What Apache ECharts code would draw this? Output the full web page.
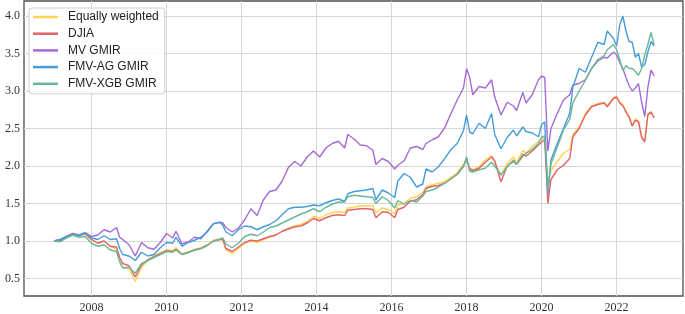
<!DOCTYPE html>
<html>
<head>
<meta charset="utf-8">
<script src="https://cdn.jsdelivr.net/npm/echarts@6/dist/echarts.min.js"></script>
<style>
html,body{margin:0;padding:0;background:#fff;}
#chart{width:685px;height:314px;}
</style>
</head>
<body>
<div id="chart"></div>
<script>
const dates = [
"2007-01","2007-03","2007-05","2007-07","2007-09","2007-11",
"2008-01","2008-03","2008-05","2008-07","2008-09","2008-10","2008-11",
"2009-01","2009-03","2009-05","2009-07","2009-09","2009-11",
"2010-01","2010-03","2010-04","2010-06","2010-08","2010-10","2010-12",
"2011-02","2011-04","2011-06","2011-07","2011-08","2011-10","2011-12",
"2012-02","2012-04","2012-06","2012-08","2012-10","2012-12",
"2013-02","2013-04","2013-06","2013-08","2013-10","2013-12",
"2014-02","2014-04","2014-06","2014-08","2014-10","2014-11",
"2015-01","2015-03","2015-05","2015-07","2015-08","2015-10","2015-12",
"2016-02","2016-03","2016-05","2016-07","2016-09","2016-11","2016-12",
"2017-02","2017-04","2017-06","2017-08","2017-10","2017-12",
"2018-01","2018-02","2018-03","2018-05","2018-07","2018-09","2018-10","2018-12",
"2019-02","2019-04","2019-05","2019-07","2019-08","2019-10","2019-12",
"2020-01","2020-02","2020-03","2020-04","2020-06","2020-08","2020-10","2020-11",
"2021-01","2021-03","2021-05","2021-07","2021-09","2021-10","2021-12",
"2022-01","2022-02","2022-03","2022-04","2022-05","2022-06","2022-07","2022-08","2022-09","2022-10","2022-11","2022-12","2023-01"
];

const equallyWeighted = [
1.00,1.00,1.05,1.10,1.07,1.09,
1.02,0.97,1.00,0.93,0.90,0.75,0.65,
0.63,0.46,0.65,0.74,0.80,0.84,
0.88,0.87,0.91,0.83,0.85,0.89,0.91,
0.95,1.01,1.03,1.02,0.88,0.83,0.90,
0.97,1.00,0.98,1.02,1.05,1.08,
1.13,1.17,1.20,1.22,1.26,1.33,
1.30,1.35,1.38,1.39,1.38,1.44,
1.45,1.47,1.47,1.47,1.38,1.44,1.42,
1.36,1.48,1.50,1.57,1.59,1.65,1.72,
1.75,1.77,1.79,1.85,1.91,2.02,
2.10,1.97,1.95,1.99,2.08,2.14,2.05,1.88,
2.03,2.12,2.05,2.21,2.17,2.26,2.33,
2.36,2.36,1.76,1.94,2.06,2.17,2.22,2.42,
2.52,2.70,2.80,2.83,2.85,2.80,2.91,
2.93,2.85,2.82,2.74,2.66,2.55,2.63,2.60,2.40,2.33,2.70,2.72,2.65
];

const djia = [
1.00,1.00,1.06,1.10,1.08,1.10,
1.02,0.97,1.00,0.93,0.92,0.78,0.70,
0.67,0.52,0.68,0.75,0.79,0.83,
0.87,0.86,0.89,0.82,0.85,0.88,0.90,
0.94,1.00,1.02,1.02,0.90,0.86,0.92,
0.98,1.01,1.00,1.03,1.06,1.08,
1.13,1.16,1.19,1.20,1.24,1.30,
1.27,1.31,1.34,1.35,1.34,1.41,
1.42,1.43,1.43,1.42,1.31,1.39,1.38,
1.31,1.42,1.45,1.53,1.55,1.62,1.70,
1.73,1.74,1.77,1.83,1.89,2.00,
2.08,1.96,1.94,1.97,2.05,2.12,2.07,1.79,
2.00,2.06,2.02,2.16,2.13,2.20,2.28,
2.32,2.35,1.50,1.82,1.95,2.01,2.10,2.39,
2.50,2.68,2.79,2.82,2.84,2.79,2.90,
2.92,2.84,2.80,2.72,2.65,2.53,2.61,2.59,2.38,2.32,2.68,2.72,2.64
];

const mvGmir = [
1.00,1.02,1.06,1.09,1.07,1.11,
1.06,1.08,1.15,1.12,1.18,1.05,1.02,
0.95,0.80,0.98,0.91,0.89,0.98,
1.10,1.04,1.13,0.96,0.99,1.05,1.03,
1.13,1.23,1.25,1.24,1.18,1.12,1.17,
1.28,1.43,1.34,1.55,1.66,1.68,
1.80,1.98,2.06,2.00,2.12,2.20,
2.12,2.24,2.30,2.33,2.24,2.42,
2.36,2.28,2.27,2.21,2.02,2.10,2.06,
1.96,2.01,2.07,2.24,2.26,2.22,2.30,
2.35,2.39,2.51,2.70,2.88,3.04,
3.30,3.18,2.95,3.06,3.04,3.15,2.92,2.68,
2.85,2.80,2.74,2.98,2.84,2.95,3.15,
3.20,3.18,2.20,2.50,2.70,2.88,2.95,3.08,
3.10,3.15,3.30,3.40,3.45,3.44,3.52,
3.48,3.38,3.30,3.18,3.07,3.00,3.04,3.10,2.85,2.66,3.05,3.28,3.20
];

const fmvAgGmir = [
1.00,1.02,1.06,1.09,1.08,1.11,
1.04,1.02,1.07,1.02,1.03,0.90,0.82,
0.80,0.74,0.85,0.80,0.82,0.91,
0.98,0.97,1.05,0.93,0.98,1.01,1.05,
1.12,1.23,1.25,1.21,1.12,1.07,1.15,
1.20,1.19,1.15,1.19,1.22,1.27,
1.35,1.43,1.45,1.45,1.46,1.48,
1.47,1.51,1.54,1.56,1.53,1.63,
1.66,1.67,1.68,1.70,1.55,1.68,1.64,
1.58,1.80,1.90,1.85,1.72,1.76,1.96,
1.92,1.99,2.10,2.22,2.30,2.47,
2.68,2.45,2.43,2.57,2.50,2.70,2.42,2.23,
2.38,2.48,2.40,2.52,2.46,2.44,2.39,
2.55,2.59,1.63,2.08,2.30,2.50,2.70,3.05,
3.30,3.25,3.45,3.65,3.62,3.80,3.70,
3.60,3.88,4.00,3.80,3.66,3.65,3.45,3.50,3.32,3.35,3.52,3.66,3.60
];

const fmvXgbGmir = [
1.00,0.99,1.04,1.08,1.05,1.06,
0.97,0.93,0.95,0.88,0.86,0.72,0.64,
0.65,0.57,0.70,0.74,0.78,0.82,
0.86,0.85,0.88,0.82,0.85,0.88,0.90,
0.94,1.00,1.02,1.04,0.96,0.91,0.97,
1.06,1.09,1.07,1.12,1.18,1.20,
1.24,1.28,1.32,1.36,1.39,1.43,
1.39,1.45,1.49,1.52,1.52,1.59,
1.61,1.60,1.59,1.58,1.50,1.59,1.54,
1.44,1.54,1.49,1.54,1.52,1.60,1.66,
1.68,1.72,1.77,1.83,1.89,1.99,
2.12,1.93,1.92,1.95,1.97,2.05,2.00,1.88,
1.99,2.08,2.02,2.13,2.17,2.22,2.30,
2.38,2.40,1.68,2.03,2.25,2.48,2.62,2.84,
3.00,3.14,3.30,3.42,3.47,3.55,3.62,
3.55,3.42,3.27,3.34,3.30,3.30,3.26,3.21,3.30,3.48,3.62,3.78,3.62
];

const seriesNames = ["Equally weighted","DJIA","MV GMIR","FMV-AG GMIR","FMV-XGB GMIR"];
const seriesColors = ["#FFD452","#E0636E","#A46BD6","#479DDC","#68B796"];
const seriesValues = [equallyWeighted, djia, mvGmir, fmvAgGmir, fmvXgbGmir];

const xTickYears = [2008,2010,2012,2014,2016,2018,2020,2022];
const yTickValues = [0.5,1.0,1.5,2.0,2.5,3.0,3.5,4.0];

function toYear(s){ const p = s.split('-').map(Number); return p[0] + (p[1]-1)/12; }

const chart = echarts.init(document.getElementById('chart'), null, {renderer:'canvas'});
const serifFont = "'Liberation Serif','Times New Roman',serif";

chart.setOption({
  animation: false,
  backgroundColor: '#ffffff',
  grid: {left: 24, right: 2, top: 1, bottom: 18, show: true, borderColor: '#4d4d4d', borderWidth: 1.3, containLabel: false},
  legend: {
    orient: 'vertical', left: 29, top: 8,
    data: seriesNames,
    icon: 'rect', itemWidth: 25, itemHeight: 2.5, itemGap: 4.7,
    padding: [3, 6, 4, 4],
    backgroundColor: 'rgba(255,255,255,0.85)',
    borderColor: '#d0d0d0', borderWidth: 1, borderRadius: 3,
    textStyle: {fontFamily: "'Liberation Sans',Arial,sans-serif", fontSize: 12, color: '#222', lineHeight: 12, padding: [0,0,0,5]}
  },
  xAxis: {
    type: 'value', min: 2006.2, max: 2023.77,
    axisLine: {show: false},
    axisTick: {show: false, customValues: xTickYears},
    axisLabel: {customValues: xTickYears, formatter: v => String(Math.round(v)), fontFamily: serifFont, fontSize: 12, color: '#333', margin: 6},
    splitLine: {show: true, lineStyle: {color: '#d6d6d6', width: 1}}
  },
  yAxis: {
    type: 'value', min: 0.2667, max: 4.2,
    axisLine: {show: false},
    axisTick: {show: false, customValues: yTickValues},
    axisLabel: {customValues: yTickValues, formatter: v => v.toFixed(1), fontFamily: serifFont, fontSize: 12, color: '#333', margin: 4},
    splitLine: {show: true, lineStyle: {color: '#d6d6d6', width: 1}}
  },
  series: seriesNames.map((name, k) => ({
    name: name, type: 'line', showSymbol: false, symbol: 'none',
    data: dates.map((d, i) => [toYear(d), seriesValues[k][i]]),
    lineStyle: {color: seriesColors[k], width: 1.4},
    itemStyle: {color: seriesColors[k]},
    z: 2 + k
  }))
});
</script>
</body>
</html>
